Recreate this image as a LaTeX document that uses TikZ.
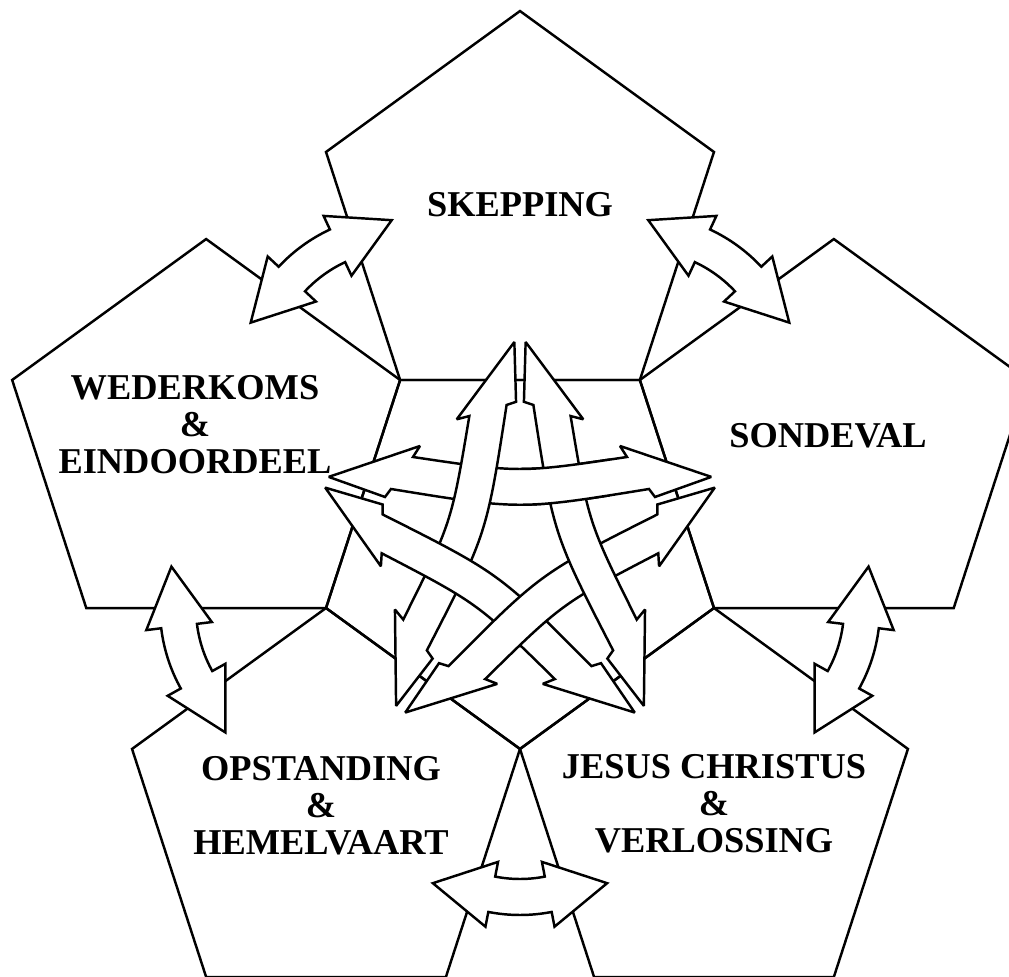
\documentclass[tikz,border=0pt]{standalone}
\usepackage{fontspec}
\setmainfont{Liberation Serif}
\usetikzlibrary{shapes.geometric}

\begin{document}
\begin{tikzpicture}[x=0.02cm, y=0.02cm, line join=miter, miter limit=3,
  pent/.style={draw, line width=1.4pt, regular polygon, regular polygon sides=5,
    minimum size=8.16cm, inner sep=0pt, outer sep=0pt},
  blk/.style={draw, fill=white, line width=1.4pt},
  lbl/.style={font=\bfseries\fontsize{20.7}{21}\selectfont, align=center, inner sep=0pt},
  gappic/.pic={
    \path[blk] (33:160) -- (11:181) -- (11:166) arc[start angle=11, end angle=-11, radius=166]
      -- (-11:181) -- (-33:160) -- (-11:115) -- (-11:130) arc[start angle=-11, end angle=11, radius=130]
      -- (11:115) -- cycle;},
  starpic/.pic={
    \path[blk] (-191.3,68.1) -- (-100,99) -- (-107,88) .. controls (0,72) .. (107,88)
      -- (100,99) -- (191.3,68.1) -- (135,48) -- (129,56) .. controls (0,35) .. (-129,56)
      -- (-135,48) -- cycle;}]

  \useasboundingbox (-520,-432) rectangle (489,545);
  \clip (-520,-432) rectangle (489,545);

  % the six pentagons
  \node[pent, shape border rotate=180] (ctr) at (0,0) {};
  \node[pent] (skepping) at (90:330) {};
  \node[pent] (sondeval) at (18:330) {};
  \node[pent] (jesus) at (-54:330) {};
  \node[pent] (opstanding) at (-126:330) {};
  \node[pent] (wederkoms) at (162:330) {};

  % double arrows across the gaps
  \foreach \a in {54,126,198,270,342}
    \pic[shift={(\a:204)}, rotate=\a] {gappic};

  % the star of arrows, each one over the one before
  \foreach \k in {0,1,2,3,4}
    \pic[rotate=72*\k] {starpic};
  \begin{scope}
    \clip (0,20) rectangle (90,110);
    \pic {starpic};
  \end{scope}

  \node[lbl] (tskepping) at (0,340) {SKEPPING};
  \node[lbl] (tsondeval) at (308,109.5) {SONDEVAL};
  \node[lbl] (twederkoms) at (-325,120) {WEDERKOMS\\\&\\EINDOORDEEL};
  \node[lbl] (topstanding) at (-199,-261) {OPSTANDING\\\&\\HEMELVAART};
  \node[lbl] (tjesus) at (194,-259) {JESUS CHRISTUS\\\&\\VERLOSSING};
\end{tikzpicture}
\end{document}
